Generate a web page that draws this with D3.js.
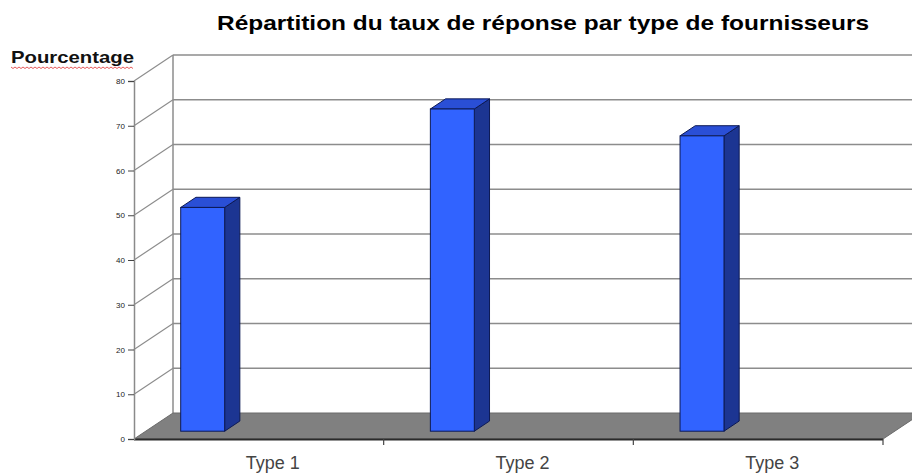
<!DOCTYPE html>
<html>
<head>
<meta charset="utf-8">
<script src="https://cdn.jsdelivr.net/npm/d3@7/dist/d3.min.js"></script>
<style>
  body { margin: 0; background: #fff; }
  svg { display: block; font-family: "Liberation Sans", Arial, sans-serif; }
</style>
</head>
<body>
<svg></svg>
<script>
'use strict';
// data
var categories = ['Type 1', 'Type 2', 'Type 3'];
var values = [50, 72, 66];
var yTicks = [0, 10, 20, 30, 40, 50, 60, 70, 80];
var title = 'Répartition du taux de réponse par type de fournisseurs';
var yLabel = 'Pourcentage';

var canvasWidth = 912,
  canvasHeight = 475,
  left = 134,
  right = 883,
  depthX = 39,
  depthY = -26,
  svg = d3.select('svg')
    .attr('width', canvasWidth)
    .attr('height', canvasHeight);

var xScale = d3.scaleBand()
  .domain(categories)
  .range([left, right]);

var yScale = d3.scaleLinear()
  .domain([0, 80])
  .range([439, 81]);

var gridColor = '#8c8c8c';

// back wall: left edge + horizontal lines
svg.append('line')
  .attr('x1', left + depthX).attr('x2', left + depthX)
  .attr('y1', yScale(80) + depthY).attr('y2', yScale(0) + depthY)
  .attr('stroke', gridColor).attr('stroke-width', 1.5);

svg.selectAll('.grid-back')
  .data(yTicks.filter(function(d) { return d > 0; }))
  .enter().append('line')
    .attr('class', 'grid-back')
    .attr('x1', left + depthX)
    .attr('x2', canvasWidth)
    .attr('y1', function(d) { return yScale(d) + depthY; })
    .attr('y2', function(d) { return yScale(d) + depthY; })
    .attr('stroke', gridColor).attr('stroke-width', 1.5);

// side wall diagonals
svg.selectAll('.grid-side')
  .data(yTicks.filter(function(d) { return d > 0; }))
  .enter().append('line')
    .attr('class', 'grid-side')
    .attr('x1', left)
    .attr('x2', left + depthX)
    .attr('y1', function(d) { return yScale(d); })
    .attr('y2', function(d) { return yScale(d) + depthY; })
    .attr('stroke', gridColor).attr('stroke-width', 1.2);

// floor
var y0 = yScale(0);
svg.append('polygon')
  .attr('points', [
    [left, y0], [right, y0], [right + depthX, y0 + depthY], [left + depthX, y0 + depthY]
  ].join(' '))
  .attr('fill', '#808080')
  .attr('stroke', '#6a6a6a')
  .attr('stroke-width', 1);
svg.append('line')
  .attr('x1', left).attr('x2', right)
  .attr('y1', y0 + 0.5).attr('y2', y0 + 0.5)
  .attr('stroke', '#2a2a2a').attr('stroke-width', 2);

// left axis
var axis = svg.append('g')
  .attr('transform', 'translate(' + left + ',0)')
  .call(d3.axisLeft(yScale).tickValues(yTicks).tickSize(6).tickPadding(3));
axis.select('.domain').attr('stroke', '#8a8a8a').attr('stroke-width', 1.5);
axis.selectAll('.tick line').attr('stroke', '#444');
axis.selectAll('.tick text')
  .attr('fill', '#222')
  .style('font-size', '8px');

// category ticks under the floor
svg.selectAll('.xtick')
  .data(categories.slice(1).concat(['end']))
  .enter().append('line')
    .attr('class', 'xtick')
    .attr('x1', function(d) { return d === 'end' ? right : xScale(d); })
    .attr('x2', function(d) { return d === 'end' ? right : xScale(d); })
    .attr('y1', y0).attr('y2', y0 + 6)
    .attr('stroke', '#444').attr('stroke-width', 1.2);

svg.selectAll('.xlabel')
  .data(categories)
  .enter().append('text')
    .attr('class', 'xlabel')
    .attr('x', function(d) { return xScale(d) + xScale.bandwidth() / 2 + 14; })
    .attr('y', 469)
    .attr('text-anchor', 'middle')
    .attr('fill', '#444')
    .style('font-size', '18px')
    .text(function(d) { return d; });

// bars (front at 30% of the depth, back at 69%)
var f1 = 0.3, f2 = 0.69,
  barOffset = 35,
  barWidth = xScale.bandwidth() * 0.176;
var bdx = depthX * (f2 - f1), bdy = depthY * (f2 - f1);

var bars = svg.selectAll('.bar')
  .data(values)
  .enter().append('g')
    .attr('class', 'bar')
    .attr('transform', function(d, i) {
      return 'translate(' + (xScale(categories[i]) + barOffset + depthX * f1) + ',' + (depthY * f1) + ')';
    });

bars.append('polygon')
  .attr('points', function(d) {
    var top = yScale(d);
    return [[barWidth, top], [barWidth + bdx, top + bdy], [barWidth + bdx, y0 + bdy], [barWidth, y0]].join(' ');
  })
  .attr('fill', '#1c3592')
  .attr('stroke', '#0d1a55').attr('stroke-width', 1);

bars.append('polygon')
  .attr('points', function(d) {
    var top = yScale(d);
    return [[0, top], [bdx, top + bdy], [barWidth + bdx, top + bdy], [barWidth, top]].join(' ');
  })
  .attr('fill', '#2a4fd6')
  .attr('stroke', '#0d1a55').attr('stroke-width', 1);

bars.append('rect')
  .attr('x', 0)
  .attr('y', function(d) { return yScale(d); })
  .attr('width', barWidth)
  .attr('height', function(d) { return y0 - yScale(d); })
  .attr('fill', '#3163ff')
  .attr('stroke', '#0d1a55').attr('stroke-width', 1);

// title and axis label
svg.append('text')
  .attr('x', 217)
  .attr('y', 30)
  .attr('textLength', 652)
  .attr('lengthAdjust', 'spacingAndGlyphs')
  .attr('fill', '#000')
  .style('font-size', '21px')
  .style('font-weight', 'bold')
  .text(title);

var yl = svg.append('text')
  .attr('x', 11)
  .attr('y', 63)
  .attr('textLength', 123)
  .attr('lengthAdjust', 'spacingAndGlyphs')
  .attr('fill', '#111')
  .style('font-size', '17px')
  .style('font-weight', 'bold')
  .text(yLabel);

// spell-check squiggle under the label
var w = 123;
var pts = d3.range(0, Math.floor(w / 2) + 1).map(function(i) {
  return [11 + i * 2, 67 + (i % 2 ? 1.5 : 0)];
});
svg.append('path')
  .attr('d', d3.line()(pts))
  .attr('fill', 'none')
  .attr('stroke', '#e03030')
  .attr('stroke-width', 0.8);
</script>
</body>
</html>
